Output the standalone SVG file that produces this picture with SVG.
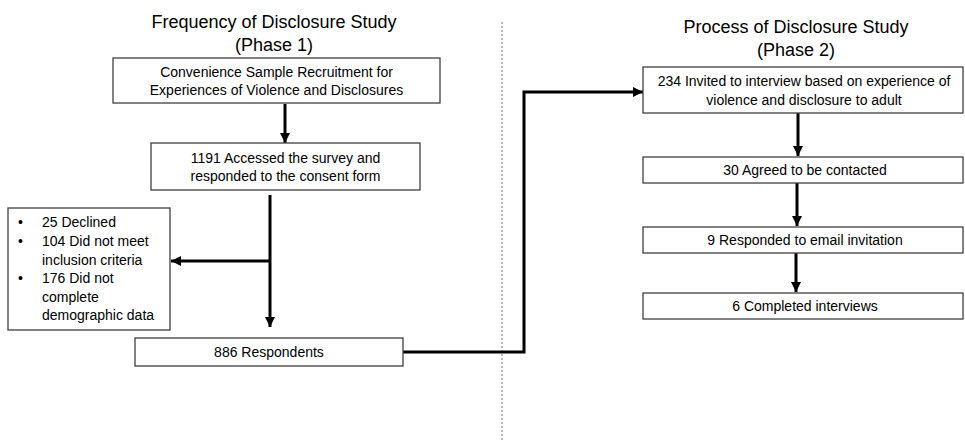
<svg xmlns="http://www.w3.org/2000/svg" width="965" height="440" viewBox="0 0 965 440">
<defs>
<marker id="ah" markerUnits="userSpaceOnUse" markerWidth="10" markerHeight="10" refX="10" refY="5" orient="auto">
<path d="M0,0 L10,5 L0,10 z" fill="#000"/>
</marker>
<style>
.box{fill:#fff;stroke:#404040;stroke-width:1.3}
.t{font-family:"Liberation Sans",Arial,sans-serif;font-size:14px;fill:#000}
.c{text-anchor:middle}
.title{font-family:"Liberation Sans",Arial,sans-serif;font-size:18px;fill:#000;text-anchor:middle}
.con{fill:none;stroke:#000;stroke-width:3}
</style>
</defs>
<rect width="965" height="440" fill="#fff"/>
<line x1="502" y1="22" x2="502" y2="440" stroke="#777" stroke-width="1" stroke-dasharray="2,2"/>
<text class="title" x="274" y="28">Frequency of Disclosure Study</text>
<text class="title" x="274" y="51">(Phase 1)</text>
<text class="title" x="796" y="33">Process of Disclosure Study</text>
<text class="title" x="796" y="56">(Phase 2)</text>
<g id="connectors">
<line class="con" x1="285" y1="104" x2="285" y2="143" marker-end="url(#ah)"/>
<line class="con" x1="270" y1="195" x2="270" y2="327" marker-end="url(#ah)"/>
<line class="con" x1="270" y1="261" x2="171" y2="261" marker-end="url(#ah)"/>
<polyline class="con" points="403,352 524,352 524,92 643,92" marker-end="url(#ah)"/>
<line class="con" x1="798" y1="113" x2="798" y2="156" marker-end="url(#ah)"/>
<line class="con" x1="797" y1="183" x2="797" y2="226" marker-end="url(#ah)"/>
<line class="con" x1="796" y1="253" x2="796" y2="292" marker-end="url(#ah)"/>
</g>
<g id="recruit">
<rect class="box" x="113" y="58" width="327" height="45"/>
<text class="t c" x="276.5" y="77">Convenience Sample Recruitment for</text>
<text class="t c" x="276.5" y="95">Experiences of Violence and Disclosures</text>
</g>
<g id="accessed">
<rect class="box" x="151" y="143" width="269" height="47"/>
<text class="t c" x="285.5" y="163">1191 Accessed the survey and</text>
<text class="t c" x="285.5" y="181">responded to the consent form</text>
</g>
<g id="excluded">
<rect class="box" x="8" y="208" width="162" height="122"/>
<text class="t" x="18" y="227">•</text><text class="t" x="42" y="227">25 Declined</text>
<text class="t" x="18" y="246">•</text><text class="t" x="42" y="246">104 Did not meet</text>
<text class="t" x="42" y="264.5">inclusion criteria</text>
<text class="t" x="18" y="283">•</text><text class="t" x="42" y="283">176 Did not</text>
<text class="t" x="42" y="301.5">complete</text>
<text class="t" x="42" y="320">demographic data</text>
</g>
<g id="respondents">
<rect class="box" x="135" y="338" width="268" height="28"/>
<text class="t c" x="269" y="357">886 Respondents</text>
</g>
<g id="invited">
<rect class="box" x="643" y="67" width="320" height="46"/>
<text class="t c" x="804" y="86">234 Invited to interview based on experience of</text>
<text class="t c" x="804" y="105">violence and disclosure to adult</text>
</g>
<g id="agreed">
<rect class="box" x="643" y="157" width="320" height="26"/>
<text class="t c" x="805" y="175">30 Agreed to be contacted</text>
</g>
<g id="responded">
<rect class="box" x="643" y="227" width="320" height="26"/>
<text class="t c" x="805" y="245">9 Responded  to email invitation</text>
</g>
<g id="completed">
<rect class="box" x="643" y="293" width="320" height="26"/>
<text class="t c" x="805" y="311">6 Completed  interviews</text>
</g>
</svg>
